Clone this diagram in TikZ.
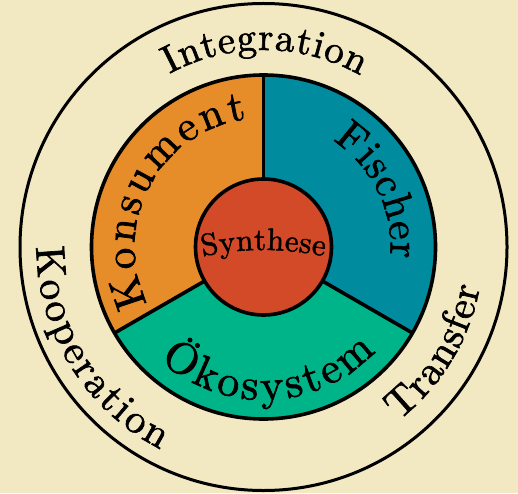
\documentclass[tikz,border=0pt]{standalone}
\usepackage{fontspec}
\usetikzlibrary{calc}
\newfontfamily\arcfont{lmroman10-regular}[Extension=.otf, FakeBold=1.6]
\definecolor{bgcol}{HTML}{F2E8C2}
\definecolor{konsumcol}{HTML}{E68C28}
\definecolor{fischcol}{HTML}{008B9E}
\definecolor{oekocol}{HTML}{00B48A}
\definecolor{synthcol}{HTML}{D24A28}
\tikzset{
  charnode/.style={anchor=base, inner sep=0pt, outer sep=0pt, text=black, font=\arcfont},
  segline/.style={line width=3.6pt, draw=black},
  outerline/.style={line width=3pt, draw=black},
}
% #1 id, #2 centre, #3 radius, #4 start angle, #5 end angle, #6 scale, #7 characters
\newcommand\arcword[7]{%
  \arcfont
  \gdef\awtot{0}\gdef\awn{0}%
  \foreach \ch in {#7}{%
    \pgfmathwidth{"\ch"}%
    \pgfmathsetmacro\awtmp{\awtot+\pgfmathresult*#6}\xdef\awtot{\awtmp}%
    \pgfmathtruncatemacro\awtmp{\awn+1}\xdef\awn{\awtmp}%
  }%
  \pgfmathsetmacro\awk{180/(pi*#3)}%
  \pgfmathsetmacro\awsp{(abs((#5)-(#4))/\awk-\awtot)/(\awn-1)}%
  \pgfmathsetmacro\aws{sign((#4)-(#5))}%
  \xdef\awcur{#4}%
  \foreach \ch [count=\i] in {#7}{%
    \pgfmathwidth{"\ch"}%
    \pgfmathsetmacro\aww{\pgfmathresult*#6}%
    \pgfmathsetmacro\awa{\awcur-\aws*\aww/2*\awk}%
    \pgfmathsetmacro\awr{\awa-\aws*90}%
    \node[charnode, scale=#6, rotate=\awr] (#1-\i) at ($(#2)+(\awa:#3)$) {\ch};%
    \pgfmathsetmacro\awtmp{\awcur-\aws*(\aww+\awsp)*\awk}\xdef\awcur{\awtmp}%
  }%
}
\begin{document}
\begin{tikzpicture}[x=1pt,y=1pt]
  \fill[bgcol] (0,0) rectangle (518,493);
  \useasboundingbox (0,0) rectangle (518,493);
  \coordinate (C) at (263.5,246);
  \coordinate (S) at (263.5,-57);
  % outer circle
  \draw[outerline] (C) circle (243.5);
  % sectors
  \fill[konsumcol] (C) -- ++(90:172) arc[start angle=90, end angle=210, radius=172] -- cycle;
  \fill[oekocol] (C) -- ++(210:172) arc[start angle=210, end angle=330, radius=172] -- cycle;
  \fill[fischcol] (C) -- ++(-30:172) arc[start angle=-30, end angle=90, radius=172] -- cycle;
  \draw[segline] (C) -- ++(90:172);
  \draw[segline] (C) -- ++(210:172);
  \draw[segline] (C) -- ++(330:172);
  \draw[segline] (C) circle (172);
  % centre
  \draw[segline, fill=synthcol] (C) circle (68);
  % texts
  \arcword{int}{C}{197}{118.5}{60.5}{3.9}{I,n,t,e,g,r,a,t,i,o,n}
  \arcword{kon}{C}{129}{206}{97.5}{4.3}{K,o,n,s,u,m,e,n,t}
  \arcword{fis}{C}{127}{57}{-5}{4.2}{F,i,s,c,h,e,r}
  \arcword{oek}{C}{153}{227.5}{317}{4.4}{Ö,k,o,s,y,s,t,e,m}
  \arcword{koo}{C}{227}{180}{243}{4.1}{K,o,o,p,e,r,a,t,i,o,n}
  \arcword{tra}{C}{220}{-52}{-10.5}{4.1}{T,r,a,n,s,f,e,r}
  \arcword{syn}{S}{300}{101.7}{78.3}{3.1}{S,y,n,t,h,e,s,e}
\end{tikzpicture}
\end{document}
